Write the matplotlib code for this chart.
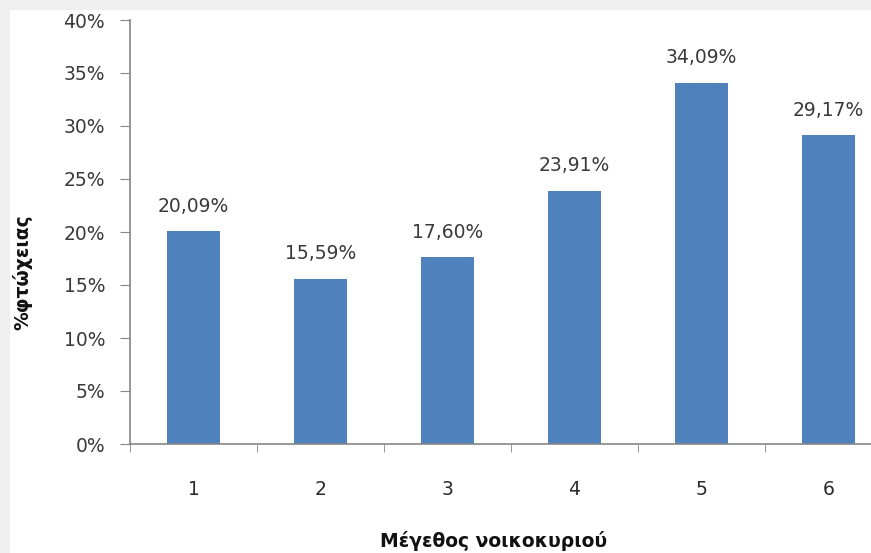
import matplotlib
matplotlib.use("Agg")
import matplotlib.pyplot as plt
from matplotlib.patches import Rectangle
from matplotlib.ticker import FixedLocator, FuncFormatter

categories = ["1", "2", "3", "4", "5", "6"]
values = [20.09, 15.59, 17.60, 23.91, 34.09, 29.17]
value_labels = ["20,09%", "15,59%", "17,60%", "23,91%", "34,09%", "29,17%"]
y_ticks = [0, 5, 10, 15, 20, 25, 30, 35, 40]
x_label = "Μέγεθος νοικοκυριού"
y_label = "%φτώχειας"

plt.rcParams['font.family'] = ['DejaVu Sans']

fig = plt.figure(figsize=(8.71, 5.53), dpi=100, facecolor="#efefef")
fig.patches.append(Rectangle((10/871, 0), 1, 1 - 10/553, transform=fig.transFigure,
                             facecolor="white", edgecolor="none", zorder=-10))

ax = fig.add_axes([130/871, 109/553, 762/871, 424/553])
ax.set_facecolor("none")
x = list(range(len(categories)))
ax.bar(x, values, width=0.41, color="#4F81BD", zorder=2)
for xi, v, lab in zip(x, values, value_labels):
    ax.annotate(lab, (xi, v), xytext=(0, 11), textcoords="offset points",
                ha="center", va="bottom", fontsize=13.5, color="#3a3a3a")

ax.set_xlim(-0.5, len(categories) - 0.5)
ax.set_ylim(0, 40)
ax.set_yticks(y_ticks)
ax.yaxis.set_major_formatter(FuncFormatter(lambda v, p: f"{int(v)}%"))
ax.set_xticks(x)
ax.set_xticklabels(categories)
ax.xaxis.set_minor_locator(FixedLocator([i - 0.5 for i in range(len(categories) + 1)]))
ax.tick_params(axis="x", which="major", length=0, pad=26, labelsize=13.5, labelcolor="#2a2a2a")
ax.tick_params(axis="x", which="minor", length=6, direction="out", color="#868686")
ax.tick_params(axis="y", length=7, direction="out", color="#868686", labelsize=13.5,
               labelcolor="#3a3a3a", pad=11)

for s in ["top", "right"]:
    ax.spines[s].set_visible(False)
for s in ["left", "bottom"]:
    ax.spines[s].set_color("#868686")
    ax.spines[s].set_linewidth(1.2)

fig.text(494/871, 1 - 541/553, x_label, ha="center", va="center", fontsize=13.5,
         fontweight="bold", color="#111111")
fig.text(22/871, 1 - 272/553, y_label, ha="center", va="center", fontsize=13.5,
         fontweight="bold", rotation=90, color="#111111")

fig.savefig("out.png", dpi=100, facecolor=fig.get_facecolor())
